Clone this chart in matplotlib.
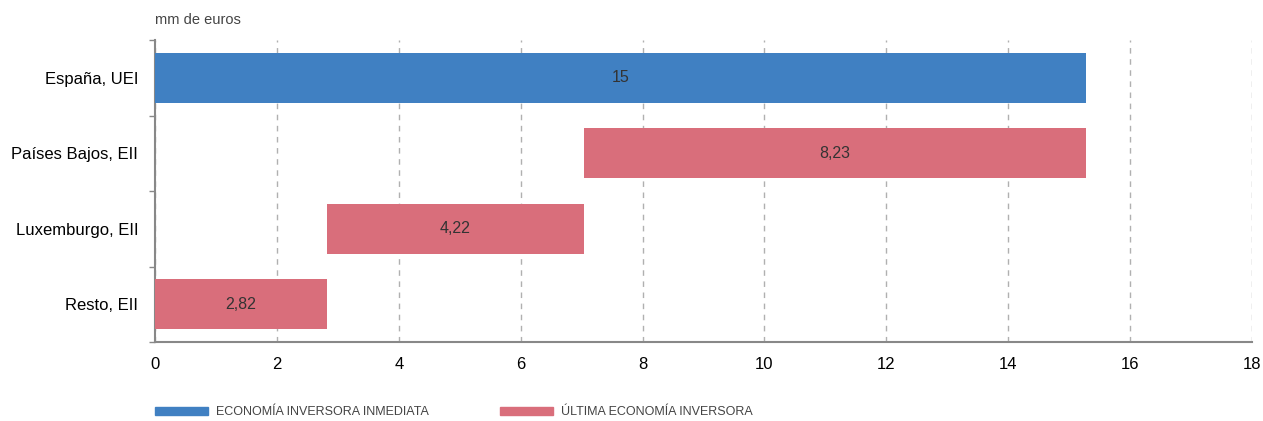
import numpy as np
import matplotlib.pyplot as plt
from matplotlib.patches import Patch

plt.rcParams['font.family'] = ['Liberation Sans', 'DejaVu Sans']

categories = ["España, UEI", "Países Bajos, EII", "Luxemburgo, EII", "Resto, EII"]
total = 15.27
parts = [8.23, 4.22, 2.82]          # Países Bajos, Luxemburgo, Resto
value_labels = ["15", "8,23", "4,22", "2,82"]
legend_labels = ["ECONOMÍA INVERSORA INMEDIATA", "ÚLTIMA ECONOMÍA INVERSORA"]

blue = "#4080c2"
red = "#d96e7b"

# waterfall: parts stack from zero (bottom row) up to the total
lefts_parts = np.cumsum(parts[::-1])[::-1] - np.array(parts)
widths = [total] + parts
lefts = [0] + list(lefts_parts)
colors = [blue, red, red, red]

fig = plt.figure(figsize=(12.63, 4.21), dpi=100)
ax = fig.add_axes([155 / 1263, 1 - 342 / 421, 1097 / 1263, 302 / 421])

y = np.arange(len(categories))[::-1]
ax.barh(y, widths, left=lefts, height=0.66, color=colors, zorder=3)

for yi, l, w, txt in zip(y, lefts, widths, value_labels):
    ax.text(l + w / 2, yi, txt, ha='center', va='center', fontsize=11.5,
            color='#333333', zorder=4)

ax.set_xlim(0, 18)
ax.set_ylim(-0.5, len(categories) - 0.5)
ax.set_xticks(np.arange(0, 19, 2))
ax.set_yticks(y)
ax.set_yticklabels(categories)
ax.set_yticks(np.arange(-0.5, len(categories), 1), minor=True)
ax.tick_params(axis='y', which='major', length=0, labelsize=12, pad=12)
ax.tick_params(axis='y', which='minor', length=4, color='#888888', width=1)
ax.tick_params(axis='x', length=0, labelsize=12, pad=11)

ax.grid(axis='x', linestyle=(0, (4, 4)), color='#b0b0b0', linewidth=1, zorder=0)
for s in ['top', 'right']:
    ax.spines[s].set_visible(False)
for s in ['left', 'bottom']:
    ax.spines[s].set_color('#888888')
    ax.spines[s].set_linewidth(1.5)

fig.text(155 / 1263, 1 - 20 / 421, "mm de euros", fontsize=10.5, color='#444444',
         va='center', ha='left')

leg_x = [155, 500]
for color, label, lx in zip([blue, red], legend_labels, leg_x):
    leg = fig.legend([Patch(color=color)], [label], loc='center left',
                     bbox_to_anchor=(lx / 1263, 1 - 412 / 421), frameon=False,
                     borderpad=0, borderaxespad=0,
                     handlelength=4.2, handleheight=0.6, handletextpad=0.65,
                     prop={'size': 9}, labelcolor='#444444')

fig.savefig("out.png", dpi=100)
